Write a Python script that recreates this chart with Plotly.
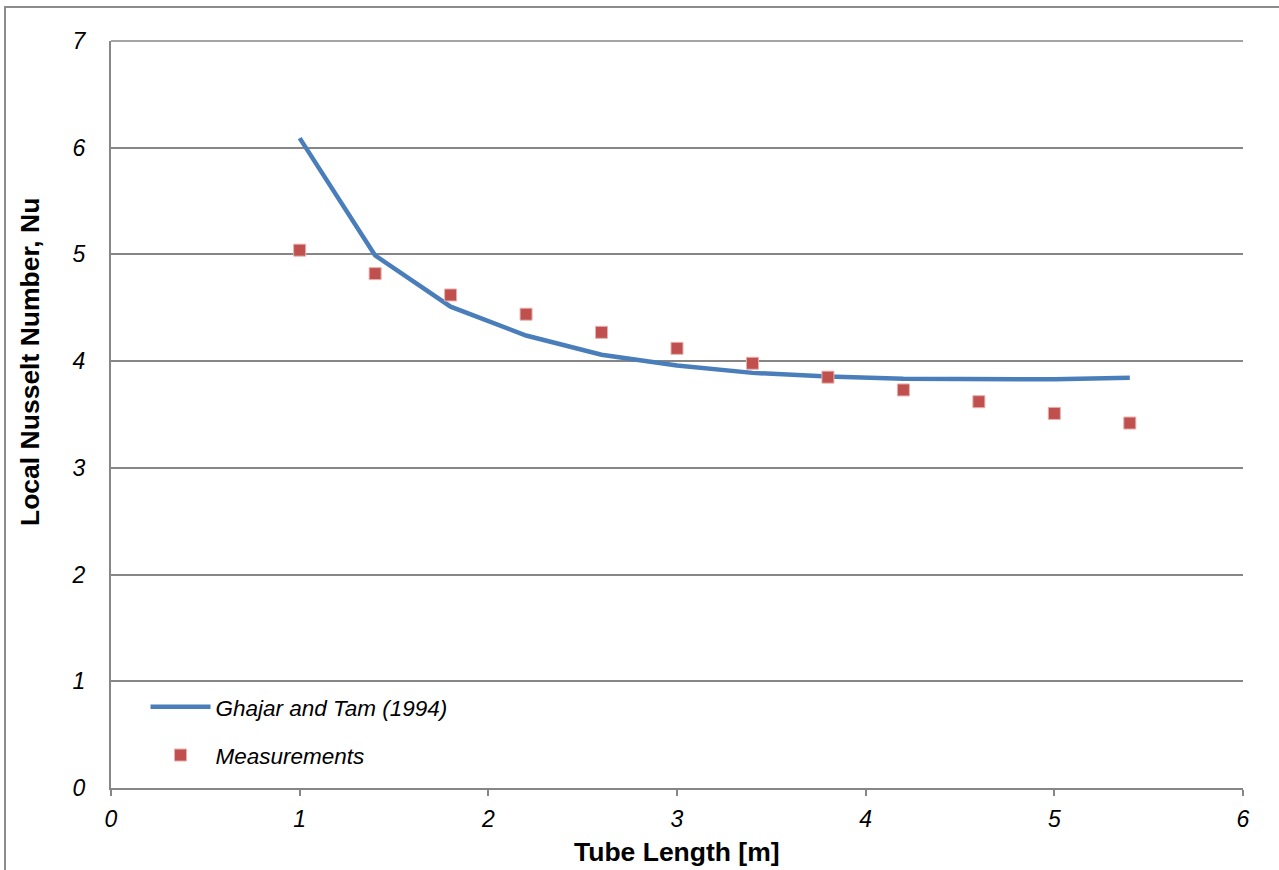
import plotly.graph_objects as go

x_model = [1.0, 1.4, 1.8, 2.2, 2.6, 3.0, 3.4, 3.8, 4.2, 4.6, 5.0, 5.4]
nu_model = [6.09, 4.99, 4.51, 4.24, 4.06, 3.96, 3.89, 3.855, 3.835, 3.83, 3.83, 3.845]
x_meas = [1.0, 1.4, 1.8, 2.2, 2.6, 3.0, 3.4, 3.8, 4.2, 4.6, 5.0, 5.4]
nu_meas = [5.04, 4.82, 4.62, 4.44, 4.27, 4.12, 3.98, 3.85, 3.73, 3.62, 3.51, 3.42]
x_ticks = [0, 1, 2, 3, 4, 5, 6]
y_ticks = [0, 1, 2, 3, 4, 5, 6, 7]

FONT = "Liberation Sans, Arial, sans-serif"
GRAY = "#868686"

fig = go.Figure()
fig.add_trace(go.Scatter(
    x=x_model, y=nu_model, mode="lines", name="Ghajar and Tam (1994)",
    line=dict(color="#4A7EBB", width=4.5), legendgroup="a"))
fig.add_trace(go.Scatter(
    x=x_meas, y=nu_meas, mode="markers", name="Measurements",
    marker=dict(color="#C0504D", symbol="square", size=12,
                line=dict(color="#E6B0AE", width=1)), legendgroup="b"))

L, R, T, B = 111, 36, 41, 82
W, H = 1279, 870
pw, ph = W - L - R, H - T - B

fig.update_layout(
    width=W, height=H,
    margin=dict(l=L, r=R, t=T, b=B, pad=0),
    paper_bgcolor="white", plot_bgcolor="white",
    font=dict(family=FONT, size=22, color="black"),
    showlegend=True,
    legend=dict(x=0.0305, y=0.137, xanchor="left", yanchor="top",
                bgcolor="rgba(0,0,0,0)", traceorder="grouped",
                tracegroupgap=16, itemwidth=60,
                font=dict(family=FONT, size=22.5, style="italic")),
    xaxis=dict(range=[0, 6], tickvals=x_ticks, ticktext=[str(v) for v in x_ticks],
               showgrid=False, zeroline=False, showline=True,
               linecolor=GRAY, linewidth=2, ticks="outside", ticklen=6,
               tickcolor=GRAY, tickwidth=1.5, ticklabelstandoff=3,
               tickfont=dict(family=FONT, size=23, style="italic")),
    yaxis=dict(range=[0, 7], tickvals=y_ticks, ticktext=[str(v) for v in y_ticks],
               showgrid=True, gridcolor=GRAY, gridwidth=1.5, zeroline=False,
               showline=True, linecolor=GRAY, linewidth=2, ticks="",
               ticklabelstandoff=19,
               tickfont=dict(family=FONT, size=23, style="italic")),
)

# axis titles
fig.add_annotation(text="<b>Tube Length [m]</b>", xref="paper", yref="paper",
                   x=0.5, y=(788 - 852) / ph, xanchor="center", yanchor="middle",
                   showarrow=False, font=dict(family=FONT, size=26.5, color="black"))
fig.add_annotation(text="<b>Local Nusselt Number, Nu</b>", xref="paper", yref="paper",
                   x=(30 - L) / pw, y=(788 - 362) / ph, xanchor="center", yanchor="middle",
                   textangle=-90, showarrow=False,
                   font=dict(family=FONT, size=26.5, color="black"))

# top border of plot area
fig.add_shape(type="line", xref="paper", yref="paper", x0=0, x1=1, y0=1, y1=1,
              line=dict(color=GRAY, width=1.5))
# outer chart frame
fig.add_shape(type="rect", xref="paper", yref="paper",
              x0=(5 - L) / pw, x1=(W + 10 - L) / pw,
              y0=(H - B - (H + 10)) / ph, y1=1 + (T - 7) / ph,
              line=dict(color="#8C8C8C", width=2), fillcolor="rgba(0,0,0,0)")

fig.write_html("out.html")
